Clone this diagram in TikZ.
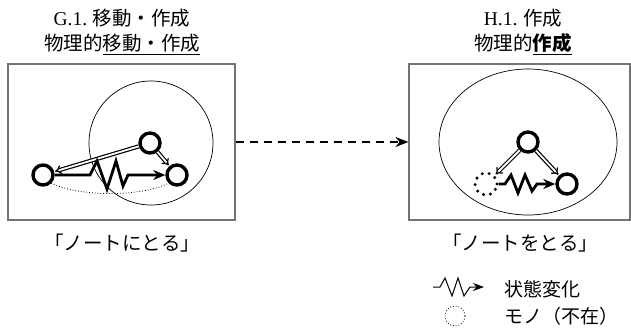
\documentclass[tikz,border=0pt]{standalone}
\usepackage{fontspec}
\setmainfont{Liberation Serif}
\newfontfamily\jp{Noto Sans CJK JP}
\usetikzlibrary{positioning,arrows,arrows.meta,shapes.geometric}

\tikzset{
  frame/.style={draw=black!55, line width=1.2pt, minimum width=227pt, minimum height=156pt, inner sep=0pt},
  zone/.style={draw, line width=0.7pt, inner sep=0pt},
  obj/.style={draw, circle, line width=3.4pt, minimum size=20pt, inner sep=0pt},
  gone/.style={circle, minimum size=22pt, inner sep=0pt, draw, line width=3.4pt, line cap=round, dash pattern=on 0pt off 7pt},
  zig/.style={line width=2.8pt, -{Stealth[length=12pt,width=10pt]}},
  dbl/.style={double, double distance=1.8pt, line width=1.2pt, -{Implies}, shorten >=1pt},
  trace/.style={line width=0.8pt, dotted},
  heading/.style={font=\jp\fontsize{19.5}{25}\selectfont, align=center},
  tag/.style={font=\jp\fontsize{19.5}{22}\selectfont},
  keytext/.style={font=\jp\fontsize{19}{22}\selectfont, anchor=west}
}

\begin{document}
\begin{tikzpicture}[x=1pt,y=-1pt]
  \useasboundingbox (0,0) rectangle (631,327);

  % G.1
  \node[heading] (tG) at (122,32) {{\rmfamily G.1.} 移動・作成\\物理的\underline{移動・作成}};
  \node[frame] (boxG) at (121.5,142) {};
  \node[zone, circle, minimum size=124pt] (zoneG) at (151,143) {};
  \node[obj] (gT) at (150,143) {};
  \node[obj] (gL) at (43,175) {};
  \node[obj] (gR) at (177,175) {};
  \draw[dbl] (gT) -- (gL);
  \draw[dbl] (gT) -- (gR);
  \draw[zig] (gL) -- (90,175) -- (97,161) -- (107,189) -- (116,161) -- (123,186) -- (128,175) -- (gR);
  \draw[trace] (gL.south east) .. controls (80,197) and (140,197) .. (gR.south west);
  \node[tag] (cG) at (122,243) {「ノートにとる」};

  % H.1
  \node[heading] (tH) at (523,32) {{\rmfamily H.1.} 作成\\物理的\underline{\bfseries 作成}};
  \node[frame, minimum width=221pt] (boxH) at (519.5,142) {};
  \node[zone, ellipse, minimum width=178pt, minimum height=146pt] (zoneH) at (528,142) {};
  \node[obj] (hT) at (528,142) {};
  \node[gone] (hA) at (486,184) {};
  \node[obj] (hR) at (567,184) {};
  \draw[dbl] (hT) -- (hA);
  \draw[dbl] (hT) -- (hR);
  \draw[zig] (hA) -- (505,184) -- (511,175) -- (518,193) -- (525,175) -- (532,191) -- (537,184) -- (hR);
  \node[tag] (cH) at (520,243) {「ノートをとる」};

  \draw[line width=1.3pt, dash pattern=on 8pt off 6pt, -{Stealth[length=13pt,width=10pt]}] (boxG) -- (boxH);

  % legend
  \node[keytext] (k1) at (501,289) {状態変化};
  \node[keytext] (k2) at (501,316) {モノ（不在）};
  \coordinate (z0) at (433,287);
  \coordinate (z1) at (484,287);
  \draw[line width=1pt, -{Stealth[length=11pt,width=8pt]}] (z0) -- (440,287) -- (445,278) -- (452,296) -- (458,278) -- (464,296) -- (470,287) -- (z1);
  \node[draw, circle, dotted, line width=0.8pt, minimum size=20pt] (k0) at (455,316) {};
\end{tikzpicture}
\end{document}
